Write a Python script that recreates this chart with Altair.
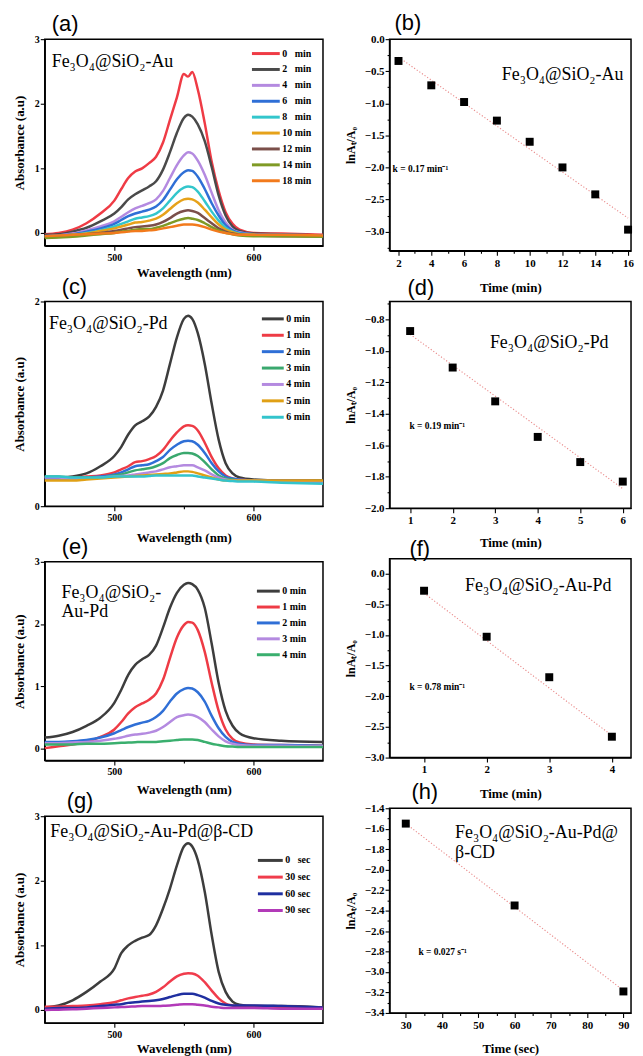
import json
import altair as alt
import pandas as pd

SERIF = "Liberation Serif"
SANS = "Liberation Sans"

# ---------------- shared wavelength grid (nm) ----------------
WL = [450, 460, 470, 480, 490, 500, 505, 510, 515, 520, 525, 530, 535, 540,
      545, 550, 553, 556, 560, 565, 570, 575, 580, 585, 590, 600, 620, 650]

# ---------------- (a) Fe3O4@SiO2-Au spectra ----------------
A_LABELS = ["0\u2002 min", "2\u2002 min", "4\u2002 min", "6\u2002 min", "8\u2002 min",
            "10 min", "12 min", "14 min", "18 min"]
A_COLORS = ["#ef3b45", "#4a4a4a", "#b48ae0", "#2f6fd6", "#33c6cc",
            "#e6a21a", "#7b4f4a", "#7f9a25", "#f27a1c"]
A_0 = [-0.02, 0.0, 0.05, 0.15, 0.3, 0.5, 0.68, 0.85, 0.95, 1.0, 1.08, 1.18, 1.4, 1.75,
       2.1, 2.46, 2.42, 2.49, 2.22, 1.7, 1.1, 0.65, 0.32, 0.14, 0.05, 0.0, -0.01, -0.03]
A_2 = [-0.03, -0.02, 0.02, 0.08, 0.18, 0.3, 0.4, 0.52, 0.6, 0.66, 0.72, 0.8, 0.98, 1.25,
       1.55, 1.78, 1.83, 1.8, 1.68, 1.42, 1.02, 0.58, 0.27, 0.1, 0.03, -0.01, -0.02, -0.04]
A_4 = [-0.05, -0.04, -0.01, 0.04, 0.1, 0.18, 0.25, 0.32, 0.38, 0.42, 0.46, 0.52, 0.65, 0.85,
       1.05, 1.2, 1.25, 1.23, 1.12, 0.9, 0.62, 0.35, 0.16, 0.05, 0.01, -0.02, -0.03, -0.04]
A_6 = [-0.05, -0.04, -0.02, 0.02, 0.07, 0.14, 0.2, 0.26, 0.3, 0.33, 0.36, 0.41, 0.51, 0.67,
       0.83, 0.94, 0.97, 0.96, 0.87, 0.68, 0.46, 0.27, 0.12, 0.04, 0.0, -0.02, -0.03, -0.04]
A_8 = [-0.06, -0.05, -0.03, 0.0, 0.04, 0.1, 0.14, 0.18, 0.22, 0.24, 0.26, 0.3, 0.38, 0.5,
       0.62, 0.7, 0.72, 0.71, 0.64, 0.49, 0.33, 0.19, 0.08, 0.02, -0.01, -0.03, -0.04, -0.05]
A_10 = [-0.06, -0.05, -0.03, -0.01, 0.03, 0.07, 0.1, 0.13, 0.16, 0.17, 0.19, 0.22, 0.28, 0.37,
        0.46, 0.52, 0.53, 0.52, 0.47, 0.36, 0.24, 0.13, 0.05, 0.01, -0.02, -0.03, -0.04, -0.05]
A_12 = [-0.07, -0.06, -0.04, -0.02, 0.0, 0.03, 0.05, 0.07, 0.09, 0.1, 0.11, 0.13, 0.17, 0.23,
        0.3, 0.34, 0.35, 0.34, 0.31, 0.23, 0.15, 0.07, 0.02, -0.01, -0.03, -0.04, -0.05, -0.05]
A_14 = [-0.08, -0.07, -0.06, -0.04, -0.02, 0.0, 0.02, 0.03, 0.05, 0.06, 0.06, 0.08, 0.11, 0.15,
        0.19, 0.22, 0.23, 0.22, 0.2, 0.15, 0.09, 0.04, 0.0, -0.02, -0.04, -0.05, -0.05, -0.06]
A_18 = [-0.05, -0.04, -0.03, -0.02, -0.01, 0.0, 0.01, 0.02, 0.03, 0.03, 0.04, 0.05, 0.07, 0.09,
        0.11, 0.13, 0.13, 0.13, 0.12, 0.09, 0.05, 0.02, 0.0, -0.02, -0.03, -0.03, -0.03, -0.04]
A_SERIES = [A_0, A_2, A_4, A_6, A_8, A_10, A_12, A_14, A_18]

# ---------------- (c) Fe3O4@SiO2-Pd spectra ----------------
C_LABELS = ["0 min", "1 min", "2 min", "3 min", "4 min", "5 min", "6 min"]
C_COLORS = ["#3d3d3d", "#ee3b45", "#2f6fd6", "#3aa86e", "#b48ae0", "#e0a015", "#33c4cc"]
C_0 = [0.28, 0.28, 0.29, 0.32, 0.39, 0.49, 0.58, 0.70, 0.79, 0.83, 0.875, 0.97, 1.13, 1.39,
       1.65, 1.83, 1.86, 1.83, 1.69, 1.39, 1.0, 0.65, 0.42, 0.32, 0.28, 0.26, 0.25, 0.25]
C_1 = [0.28, 0.28, 0.28, 0.29, 0.30, 0.33, 0.36, 0.39, 0.43, 0.44, 0.46, 0.49, 0.55, 0.64,
       0.72, 0.78, 0.79, 0.785, 0.74, 0.62, 0.48, 0.37, 0.30, 0.27, 0.26, 0.25, 0.25, 0.24]
C_2 = [0.27, 0.27, 0.27, 0.28, 0.29, 0.31, 0.33, 0.36, 0.39, 0.40, 0.41, 0.44, 0.48, 0.55,
       0.60, 0.635, 0.64, 0.635, 0.60, 0.52, 0.42, 0.34, 0.29, 0.27, 0.26, 0.25, 0.25, 0.24]
C_3 = [0.29, 0.29, 0.28, 0.28, 0.28, 0.30, 0.31, 0.33, 0.35, 0.36, 0.37, 0.39, 0.42, 0.47,
       0.50, 0.52, 0.52, 0.515, 0.49, 0.43, 0.36, 0.30, 0.27, 0.26, 0.25, 0.25, 0.24, 0.24]
C_4 = [0.28, 0.28, 0.27, 0.27, 0.28, 0.29, 0.295, 0.30, 0.31, 0.32, 0.33, 0.34, 0.36, 0.38,
       0.39, 0.40, 0.40, 0.40, 0.38, 0.35, 0.31, 0.28, 0.26, 0.25, 0.25, 0.25, 0.24, 0.24]
C_5 = [0.25, 0.25, 0.25, 0.26, 0.27, 0.28, 0.285, 0.29, 0.295, 0.30, 0.305, 0.31, 0.315, 0.32,
       0.33, 0.34, 0.34, 0.335, 0.32, 0.30, 0.28, 0.26, 0.25, 0.25, 0.25, 0.25, 0.25, 0.25]
C_6 = [0.29, 0.29, 0.28, 0.28, 0.28, 0.29, 0.29, 0.29, 0.29, 0.29, 0.295, 0.30, 0.30, 0.30,
       0.30, 0.30, 0.30, 0.30, 0.29, 0.28, 0.27, 0.26, 0.25, 0.245, 0.24, 0.24, 0.23, 0.22]
C_SERIES = [C_0, C_1, C_2, C_3, C_4, C_5, C_6]

# ---------------- (e) Fe3O4@SiO2-Au-Pd spectra ----------------
E_LABELS = ["0 min", "1 min", "2 min", "3 min", "4 min"]
E_COLORS = ["#3d3d3d", "#ee3b45", "#2f6fd6", "#b48ae0", "#3aaf6e"]
E_0 = [0.17, 0.2, 0.26, 0.36, 0.49, 0.73, 0.94, 1.18, 1.34, 1.43, 1.5, 1.65, 1.94, 2.26,
       2.5, 2.63, 2.66, 2.64, 2.55, 2.26, 1.68, 1.05, 0.6, 0.36, 0.24, 0.16, 0.12, 0.1]
E_1 = [0.0, 0.03, 0.06, 0.1, 0.18, 0.3, 0.42, 0.56, 0.66, 0.72, 0.78, 0.88, 1.1, 1.45,
       1.78, 1.98, 2.03, 2.02, 1.9, 1.55, 1.05, 0.6, 0.3, 0.15, 0.09, 0.06, 0.05, 0.04]
E_2 = [0.1, 0.1, 0.11, 0.13, 0.17, 0.24, 0.29, 0.34, 0.38, 0.41, 0.44, 0.5, 0.6, 0.75,
       0.88, 0.95, 0.97, 0.96, 0.9, 0.75, 0.52, 0.32, 0.18, 0.1, 0.07, 0.05, 0.05, 0.04]
E_3 = [0.08, 0.08, 0.09, 0.1, 0.12, 0.15, 0.17, 0.2, 0.22, 0.23, 0.25, 0.28, 0.34, 0.42,
       0.5, 0.53, 0.54, 0.535, 0.5, 0.42, 0.3, 0.19, 0.11, 0.07, 0.05, 0.04, 0.04, 0.03]
E_4 = [0.06, 0.06, 0.06, 0.07, 0.07, 0.08, 0.085, 0.09, 0.095, 0.1, 0.1, 0.1, 0.11, 0.12,
       0.13, 0.14, 0.14, 0.14, 0.13, 0.1, 0.07, 0.05, 0.03, 0.025, 0.02, 0.02, 0.02, 0.02]
E_SERIES = [E_0, E_1, E_2, E_3, E_4]

# ---------------- (g) Fe3O4@SiO2-Au-Pd@b-CD spectra ----------------
G_LABELS = ["0\u2002 sec", "30 sec", "60 sec", "90 sec"]
G_COLORS = ["#3d3d3d", "#f03c4c", "#1f2fa0", "#b23ab8"]
G_0 = [0.04, 0.07, 0.15, 0.28, 0.44, 0.64, 0.88, 1.0, 1.07, 1.12, 1.16, 1.31, 1.57, 1.88,
       2.24, 2.53, 2.58, 2.53, 2.32, 1.83, 1.16, 0.59, 0.28, 0.13, 0.08, 0.06, 0.06, 0.04]
G_30 = [0.05, 0.05, 0.06, 0.07, 0.09, 0.12, 0.15, 0.18, 0.2, 0.22, 0.24, 0.28, 0.35, 0.44,
        0.52, 0.56, 0.57, 0.565, 0.53, 0.43, 0.3, 0.18, 0.1, 0.07, 0.06, 0.06, 0.05, 0.04]
G_60 = [0.02, 0.03, 0.03, 0.04, 0.06, 0.08, 0.09, 0.11, 0.12, 0.13, 0.14, 0.15, 0.17, 0.2,
        0.23, 0.25, 0.25, 0.25, 0.23, 0.19, 0.14, 0.1, 0.08, 0.07, 0.07, 0.07, 0.06, 0.04]
G_90 = [0.0, 0.005, 0.01, 0.02, 0.03, 0.04, 0.045, 0.05, 0.055, 0.06, 0.06, 0.06, 0.065, 0.07,
        0.08, 0.09, 0.09, 0.09, 0.08, 0.07, 0.05, 0.04, 0.03, 0.03, 0.03, 0.03, 0.02, 0.02]
G_SERIES = [G_0, G_30, G_60, G_90]

# ---------------- kinetics (ln At/A0 vs time) ----------------
B_T = [2, 4, 6, 8, 10, 12, 14, 16]
B_LN = [-0.34, -0.72, -0.98, -1.27, -1.6, -2.0, -2.42, -2.97]
B_FIT_T = [2, 16]
B_FIT = [-0.28, -2.79]

D_T = [1, 2, 3, 4, 5, 6]
D_LN = [-0.874, -1.106, -1.321, -1.547, -1.707, -1.831]
D_FIT_T = [1, 6]
D_FIT = [-0.895, -1.876]

F_T = [1, 2, 3, 4]
F_LN = [-0.28, -1.03, -1.69, -2.66]
F_FIT_T = [1, 4]
F_FIT = [-0.32, -2.64]

H_T = [30, 60, 90]
H_LN = [-1.55, -2.35, -3.19]
H_FIT_T = [30, 90]
H_FIT = [-1.55, -3.18]

# ---------------- tick values ----------------
WL_MAJOR = [500, 600]
WL_MINOR = [550]
ABS3_MAJOR = [0, 1, 2, 3]
ABS3_MINOR = [0.5, 1.5, 2.5]
ABS2_MAJOR = [0, 1, 2]
ABS2_MINOR = [0.5, 1.5]

B_X_MAJOR = [2, 4, 6, 8, 10, 12, 14, 16]
B_X_MINOR = [3, 5, 7, 9, 11, 13, 15]
B_Y_MAJOR = [-3.0, -2.5, -2.0, -1.5, -1.0, -0.5, 0.0]
B_Y_MINOR = [-3.25, -2.75, -2.25, -1.75, -1.25, -0.75, -0.25]
D_X_MAJOR = [1, 2, 3, 4, 5, 6]
D_X_MINOR = [1.5, 2.5, 3.5, 4.5, 5.5]
D_Y_MAJOR = [-2.0, -1.8, -1.6, -1.4, -1.2, -1.0, -0.8]
D_Y_MINOR = [-1.9, -1.7, -1.5, -1.3, -1.1, -0.9, -0.7]
F_X_MAJOR = [1, 2, 3, 4]
F_X_MINOR = [1.5, 2.5, 3.5]
F_Y_MAJOR = [-3.0, -2.5, -2.0, -1.5, -1.0, -0.5, 0.0]
F_Y_MINOR = [-2.75, -2.25, -1.75, -1.25, -0.75, -0.25]
H_X_MAJOR = [30, 40, 50, 60, 70, 80, 90]
H_X_MINOR = [35, 45, 55, 65, 75, 85]
H_Y_MAJOR = [-3.4, -3.2, -3.0, -2.8, -2.6, -2.4, -2.2, -2.0, -1.8, -1.6, -1.4]
H_Y_MINOR = [-3.3, -3.1, -2.9, -2.7, -2.5, -2.3, -2.1, -1.9, -1.7, -1.5]

NAME_AU = "Fe\u2083O\u2084@SiO\u2082-Au"
NAME_PD = "Fe\u2083O\u2084@SiO\u2082-Pd"
NAME_AUPD = "Fe\u2083O\u2084@SiO\u2082-Au-Pd"
NAME_CD = "Fe\u2083O\u2084@SiO\u2082-Au-Pd@\u03b2-CD"

LEFT_W = 280
RIGHT_W = 243


def mk_axis(title, major, minor, fmt, label_size, title_size, label_pad, title_pad):
    test = "indexof(%s, datum.value) < 0" % json.dumps(major)
    return alt.Axis(
        title=title, values=sorted(major + minor), format=fmt,
        labelExpr=f"{test} ? '' : datum.label",
        tickSize={"condition": {"test": test, "value": 2.5}, "value": 4.5},
        labelFontSize=label_size, titleFontSize=title_size,
        labelPadding=label_pad, titlePadding=title_pad,
    )


def panel_title(letter, dx, offset=-2):
    return alt.TitleParams(text=letter, anchor="start", frame="group", dx=dx, offset=offset,
                           font=SANS, fontSize=22, fontWeight="normal", color="black")


def spectra_panel(letter, dx, labels, colors, series, ydom, ymaj, ymin, height,
                  leg_x, leg_y, sym_len, row_pad, ann_x, ann_y, ann_txt, x_title_pad):
    rows = [{"x": w, "y": v, "s": lab}
            for lab, vals in zip(labels, series) for w, v in zip(WL, vals)]
    df = pd.DataFrame(rows)
    x = alt.X("x:Q", scale=alt.Scale(domain=[450, 650], nice=False, zero=False),
              axis=mk_axis("Wavelength (nm)", WL_MAJOR, WL_MINOR, "d", 10, 13, 2, x_title_pad))
    y = alt.Y("y:Q", scale=alt.Scale(domain=ydom, nice=False, zero=False),
              axis=mk_axis("Absorbance (a.u)", ymaj, ymin, "d", 10, 13, 1, 8))
    # a wide, flat line symbol: unit = 5 px (size 100); path ends at the slot's right edge
    sym_path = "M-%.2f,0H1" % (sym_len / 5.0 - 1.0)
    lines = alt.Chart(df).mark_line(interpolate="monotone", strokeWidth=2.5).encode(
        x=x, y=y,
        color=alt.Color("s:N", scale=alt.Scale(domain=labels, range=colors),
                        legend=alt.Legend(orient="none", legendX=leg_x + sym_len - 10,
                                          legendY=leg_y - 5, title=None,
                                          symbolType=sym_path, symbolSize=100,
                                          symbolStrokeWidth=3, labelFont=SERIF,
                                          labelFontWeight="bold", labelFontSize=10,
                                          labelColor="black", rowPadding=row_pad,
                                          labelOffset=1, padding=0)),
    )
    tdf = pd.DataFrame({"x": ann_x, "y": ann_y, "t": ann_txt})
    text = alt.Chart(tdf).mark_text(align="left", baseline="middle", font=SERIF,
                                    fontSize=18, color="black").encode(x=x, y=y, text="t:N")
    return alt.layer(lines, text).properties(width=LEFT_W, height=height,
                                             title=panel_title(letter, dx))


def kinetic_panel(letter, dx, t, ln, fit_t, fit, xdom, xmaj, xmin, ydom, ymaj, ymin, height,
                  xlabel, ann_x, ann_y, ann_txt, k_x, k_y, k_txt, x_title_pad):
    pdf = pd.DataFrame({"x": t, "y": ln})
    fdf = pd.DataFrame({"x": fit_t, "y": fit})
    x = alt.X("x:Q", scale=alt.Scale(domain=xdom, nice=False, zero=False),
              axis=mk_axis(xlabel, xmaj, xmin, "d", 11, 13, 2, x_title_pad))
    y = alt.Y("y:Q", scale=alt.Scale(domain=ydom, nice=False, zero=False),
              axis=mk_axis("lnA\u209c/A\u2080", ymaj, ymin, ".1f", 11, 12, 1, 7))
    fitl = alt.Chart(fdf).mark_line(color="#e98a8a", strokeWidth=1.1,
                                    strokeDash=[1.2, 2]).encode(x=x, y=y)
    pts = alt.Chart(pdf).mark_square(size=64, color="black", opacity=1).encode(x=x, y=y)
    adf = pd.DataFrame({"x": ann_x, "y": ann_y, "t": ann_txt})
    ann = alt.Chart(adf).mark_text(align="left", baseline="middle", font=SERIF, fontSize=18,
                                   color="black").encode(x=x, y=y, text="t:N")
    kdf = pd.DataFrame({"x": [k_x], "y": [k_y], "t": [k_txt]})
    kt = alt.Chart(kdf).mark_text(align="left", baseline="middle", font=SERIF, fontSize=9.5,
                                  fontWeight="bold", color="black").encode(x=x, y=y, text="t:N")
    return alt.layer(fitl, pts, ann, kt).properties(width=RIGHT_W, height=height,
                                                    title=panel_title(letter, dx))


pa = spectra_panel("(a)", 7, A_LABELS, A_COLORS, A_SERIES, [-0.2, 3], ABS3_MAJOR, ABS3_MINOR, 208,
                   207, 13, 28, 3, [455], [2.65], [NAME_AU], 4)
pc = spectra_panel("(c)", 17, C_LABELS, C_COLORS, C_SERIES, [0, 2], ABS2_MAJOR, ABS2_MINOR, 206,
                   217, 16, 22, 3.5, [453], [1.78], [NAME_PD], 9.5)
pe = spectra_panel("(e)", 17, E_LABELS, E_COLORS, E_SERIES, [-0.2, 3], ABS3_MAJOR, ABS3_MINOR, 200,
                   212, 28, 23, 3, [462, 462], [2.5, 2.19], ["Fe\u2083O\u2084@SiO\u2082-", "Au-Pd"], 6.5)
pg = spectra_panel("(g)", 22, G_LABELS, G_COLORS, G_SERIES, [-0.2, 3], ABS3_MAJOR, ABS3_MINOR, 208,
                   213, 43, 25, 3.8, [454], [2.75], [NAME_CD], 3)

pb = kinetic_panel("(b)", 5, B_T, B_LN, B_FIT_T, B_FIT, [1.455, 16.18], B_X_MAJOR, B_X_MINOR,
                   [-3.3, 0], B_Y_MAJOR, B_Y_MINOR, 213, "Time (min)",
                   [8.3], [-0.56], [NAME_AU], 1.64, -2.03, "k = 0.17 min\u207b\u00b9", 13.5)
pd_ = kinetic_panel("(d)", 18, D_T, D_LN, D_FIT_T, D_FIT, [0.516, 6.194], D_X_MAJOR, D_X_MINOR,
                    [-2.0, -0.686], D_Y_MAJOR, D_Y_MINOR, 208, "Time (min)",
                    [2.876], [-0.95], [NAME_PD], 0.983, -1.476, "k = 0.19 min\u207b\u00b9", 11.5)
pf = kinetic_panel("(f)", 20, F_T, F_LN, F_FIT_T, F_FIT, [0.449, 4.306], F_X_MAJOR, F_X_MINOR,
                   [-3.0, 0.24], F_Y_MAJOR, F_Y_MINOR, 200, "Time (min)",
                   [1.655], [-0.21], [NAME_AUPD], 0.766, -1.85, "k = 0.78 min\u207b\u00b9", 12.5)
ph = kinetic_panel("(h)", 22, H_T, H_LN, H_FIT_T, H_FIT, [25.53, 92.1], H_X_MAJOR, H_X_MINOR,
                   [-3.4, -1.4], H_Y_MAJOR, H_Y_MINOR, 206, "Time (sec)",
                   [43.6, 43.6], [-1.64, -1.837],
                   ["Fe\u2083O\u2084@SiO\u2082-Au-Pd@", "\u03b2-CD"],
                   33.5, -2.8, "k = 0.027 s\u207b\u00b9", 12.5)

left = alt.vconcat(pa, pc, pe, pg, spacing=56, bounds="flush").resolve_scale(color="independent")
right = alt.vconcat(pb, pd_, pf, ph, spacing=51, bounds="flush").resolve_scale(color="independent")

chart = alt.hconcat(left, right, spacing=14).resolve_scale(color="independent").properties(
    padding={"left": 4, "top": 0, "right": 0, "bottom": 0}
).configure_view(
    stroke="black", strokeWidth=1.5
).configure_axis(
    grid=False, domainColor="black", domainWidth=1.3, tickColor="black", tickWidth=1.1,
    labelColor="black", titleColor="black", labelFont=SERIF, titleFont=SERIF,
    labelFontWeight="bold", titleFontWeight="bold", labelOverlap=False, labelFlush=False,
)

chart.save("out.html", embed_options={"renderer": "svg", "actions": False})
